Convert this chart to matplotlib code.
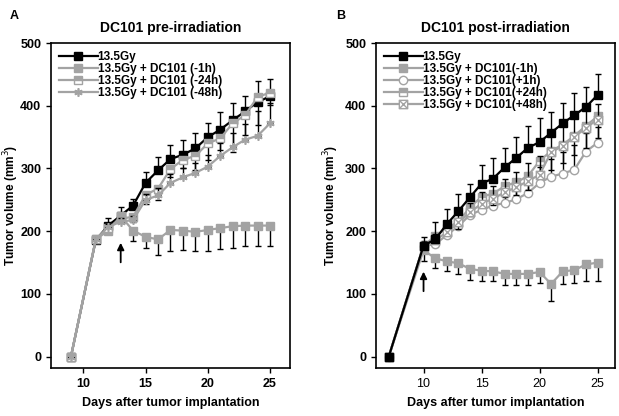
import matplotlib
matplotlib.use("Agg")
import matplotlib.pyplot as plt
import numpy as np
from matplotlib.path import Path

plt.rcParams['font.family'] = ['Liberation Sans', 'DejaVu Sans']

# ---- panel A data (DC101 pre-irradiation) ----
days_a = [9, 11, 12, 13, 14, 15, 16, 17, 18, 19, 20, 21, 22, 23, 24, 25]
ctrl_a = [0, 186, 209, 225, 241, 277, 297, 315, 322, 332, 350, 362, 377, 391, 406, 415]
ctrl_a_err = [0, 5, 12, 13, 10, 17, 21, 23, 24, 24, 23, 28, 27, 24, 33, 28]
m1h_a = [0, 187, 201, 224, 201, 191, 187, 202, 201, 199, 202, 205, 208, 209, 209, 209]
m1h_a_err = [0, 4, 5, 8, 16, 17, 25, 33, 31, 31, 33, 34, 34, 33, 33, 33]
m24h_a = [0, 187, 205, 220, 223, 258, 268, 299, 314, 320, 340, 348, 372, 385, 414, 421]
m24h_a_err = [0, 0, 3, 4, 8, 14, 18, 12, 14, 22, 26, 18, 45, 31, 45, 20]
m48h_a = [0, 187, 207, 215, 218, 250, 257, 277, 286, 293, 303, 320, 334, 346, 352, 372]
m48h_a_err = [0, 3, 5, 6, 6, 10, 12, 14, 15, 16, 18, 20, 22, 25, 40, 32]
labels_a = ['13.5Gy', '13.5Gy + DC101 (-1h)', '13.5Gy + DC101 (-24h)', '13.5Gy + DC101 (-48h)']

# ---- panel B data (DC101 post-irradiation) ----
days_b = [7, 10, 11, 12, 13, 14, 15, 16, 17, 18, 19, 20, 21, 22, 23, 24, 25]
ctrl_b = [0, 177, 187, 211, 232, 254, 276, 284, 302, 317, 333, 342, 357, 372, 385, 398, 417]
ctrl_b_err = [0, 14, 28, 24, 28, 22, 30, 32, 30, 33, 34, 38, 33, 33, 35, 32, 34]
m1h_b = [0, 170, 157, 152, 149, 140, 137, 136, 132, 132, 132, 135, 116, 136, 138, 147, 150]
m1h_b_err = [0, 17, 16, 16, 17, 18, 16, 15, 18, 18, 18, 17, 28, 20, 21, 26, 29]
p1h_b = [0, 177, 179, 194, 208, 226, 234, 241, 245, 251, 261, 277, 287, 292, 298, 327, 341]
p1h_b_err = [0, 5, 8, 10, 10, 12, 14, 16, 18, 20, 22, 25, 28, 35, 40, 30, 25]
p24h_b = [0, 177, 192, 205, 215, 238, 255, 260, 272, 278, 288, 312, 328, 338, 352, 368, 383]
p24h_b_err = [0, 5, 8, 10, 12, 14, 15, 18, 18, 20, 22, 25, 30, 30, 30, 35, 35]
p48h_b = [0, 177, 186, 198, 214, 230, 244, 252, 262, 270, 280, 290, 326, 336, 350, 365, 378]
p48h_b_err = [0, 8, 10, 12, 14, 15, 18, 20, 22, 25, 28, 30, 32, 32, 35, 30, 25]
labels_b = ['13.5Gy', '13.5Gy + DC101(-1h)', '13.5Gy + DC101(+1h)',
            '13.5Gy + DC101(+24h)', '13.5Gy + DC101(+48h)']

GRAY = '#a3a3a3'

# square with an X inside
xsq = Path([(-1, -1), (1, -1), (1, 1), (-1, 1), (-1, -1), (-1, -1), (1, 1), (-1, 1), (1, -1)],
           [Path.MOVETO, Path.LINETO, Path.LINETO, Path.LINETO, Path.CLOSEPOLY,
            Path.MOVETO, Path.LINETO, Path.MOVETO, Path.LINETO])


def series(ax, x, y, err, up, label, color, z, **mk):
    y = np.array(y, float)
    err = np.array(err, float)
    zero = np.zeros_like(err)
    yerr = [zero, err] if up else [err, zero]
    ax.errorbar(x, y, yerr=yerr, fmt='none', ecolor='black', elinewidth=1.0,
                capsize=2.5, capthick=1.0, zorder=z - 0.5)
    ax.plot(x, y, color=color, lw=1.6, ms=6, label=label, zorder=z, **mk)


def style(ax, bold_x, ylab_x):
    ax.set_ylim(-18, 500)
    ax.set_yticks([0, 100, 200, 300, 400, 500])
    ax.set_xticks([10, 15, 20, 25])
    ax.tick_params(direction='out', length=3.5, width=1, labelsize=9)
    for lbl in ax.get_yticklabels():
        lbl.set_fontweight('bold')
    if bold_x:
        for lbl in ax.get_xticklabels():
            lbl.set_fontweight('bold')
    for sp in ax.spines.values():
        sp.set_linewidth(1.2)
    ax.set_xlabel('Days after tumor implantation', fontsize=9, fontweight='bold', labelpad=5)
    ax.set_ylabel('Tumor volume (mm$^3$)', fontsize=8.6, fontweight='bold')
    ax.yaxis.set_label_coords(ylab_x, 0.5)


fig = plt.figure(figsize=(6.19, 4.16), dpi=100)
axA = fig.add_axes([0.0824, 0.1154, 0.386, 0.7812])
axB = fig.add_axes([0.6074, 0.1154, 0.386, 0.7812])

leg_kw = dict(loc='upper left', frameon=False, handlelength=3.3, handletextpad=0.0,
              labelspacing=0.0, borderaxespad=0.25, prop={'weight': 'bold', 'size': 8.5})

# panel A
series(axA, days_a, ctrl_a, ctrl_a_err, True, labels_a[0], 'black', 3,
       marker='s', mfc='black', mec='black')
series(axA, days_a, m1h_a, m1h_a_err, False, labels_a[1], GRAY, 4,
       marker='s', mfc=GRAY, mec=GRAY)
series(axA, days_a, m24h_a, m24h_a_err, False, labels_a[2], GRAY, 5,
       marker='s', mfc=GRAY, mec=GRAY, fillstyle='top', markerfacecoloralt='white')
series(axA, days_a, m48h_a, m48h_a_err, True, labels_a[3], GRAY, 6,
       marker=(6, 2, 0), mec=GRAY, mew=1.2)
axA.set_xlim(7.4, 26.6)
style(axA, True, -0.125)
axA.set_title('DC101 pre-irradiation', fontsize=10, fontweight='bold', pad=8)
axA.legend(**leg_kw)
axA.annotate('', xy=(13, 186), xytext=(13, 146),
             arrowprops=dict(arrowstyle='-|>', color='black', lw=1.3, mutation_scale=10))

# panel B
series(axB, days_b, m1h_b, m1h_b_err, False, labels_b[1], GRAY, 3,
       marker='s', mfc=GRAY, mec=GRAY)
series(axB, days_b, p1h_b, p1h_b_err, True, labels_b[2], GRAY, 4,
       marker='o', mfc='white', mec=GRAY, mew=1.0)
series(axB, days_b, p24h_b, p24h_b_err, False, labels_b[3], GRAY, 5,
       marker='s', mfc=GRAY, mec=GRAY, fillstyle='top', markerfacecoloralt='white')
series(axB, days_b, p48h_b, p48h_b_err, True, labels_b[4], GRAY, 6,
       marker=xsq, mfc='white', mec=GRAY, mew=1.0)
series(axB, days_b, ctrl_b, ctrl_b_err, True, labels_b[0], 'black', 7,
       marker='s', mfc='black', mec='black')
axB.set_xlim(5.9, 26.5)
style(axB, False, -0.147)
axB.set_title('DC101 post-irradiation', fontsize=10, fontweight='bold', pad=8)
h, l = axB.get_legend_handles_labels()
order = [4, 0, 1, 2, 3]
axB.legend([h[i] for i in order], [l[i] for i in order], **leg_kw)
axB.annotate('', xy=(10, 140), xytext=(10, 100),
             arrowprops=dict(arrowstyle='-|>', color='black', lw=1.3, mutation_scale=10))

fig.text(0.016, 0.975, 'A', fontsize=9, fontweight='bold', va='top')
fig.text(0.543, 0.975, 'B', fontsize=9, fontweight='bold', va='top')

fig.savefig('out.png', dpi=100)
